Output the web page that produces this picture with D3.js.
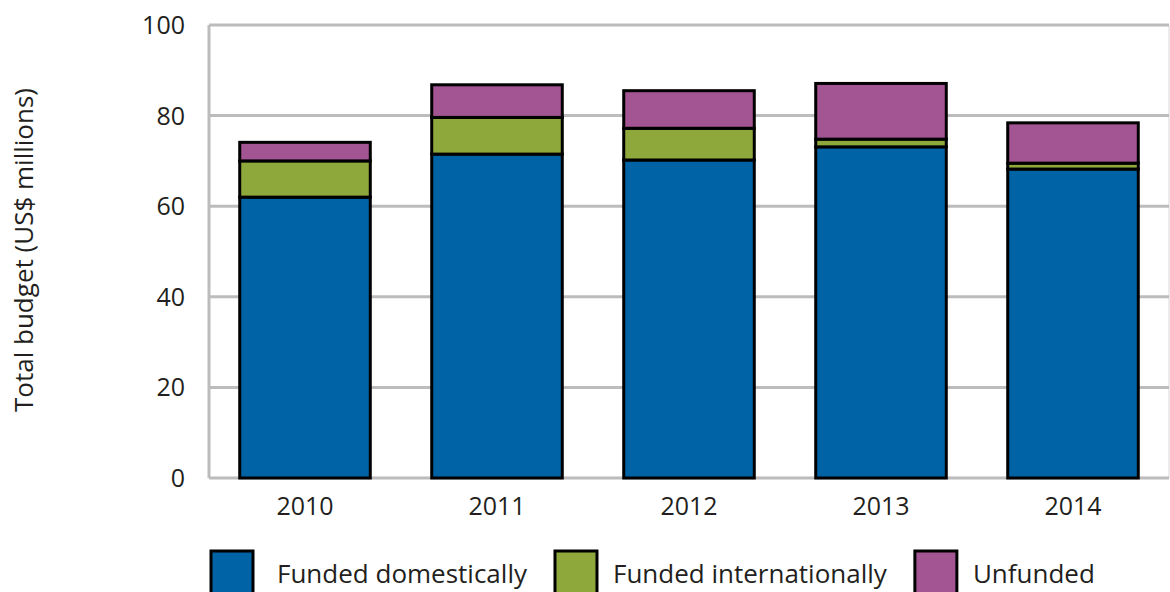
<!DOCTYPE html>
<html>
<head>
<meta charset="utf-8">
<script src="https://cdn.jsdelivr.net/npm/d3@7"></script>
<style>
  body { margin: 0; background: #fff; }
  text { font-family: "Open Sans", sans-serif; fill: #231f20; }
</style>
</head>
<body>
<script>
var years = ["2010", "2011", "2012", "2013", "2014"];
var domestic = [62.0, 71.5, 70.2, 73.1, 68.2];
var international = [8.0, 8.1, 7.0, 1.7, 1.3];
var unfunded = [4.1, 7.2, 8.3, 12.3, 8.9];
var seriesNames = ["Funded domestically", "Funded internationally", "Unfunded"];
var seriesColors = ["#0063a6", "#8fa83c", "#a35492"];
var yTicks = [0, 20, 40, 60, 80, 100];

var w = 1170;
var h = 592;

var margin = {
  top: 25,
  left: 209,
  bottom: 114,
  right: 1
}

var width = w - margin.left - margin.right;
var height = h - margin.top - margin.bottom;

var svg = d3.select("body")
  .append("svg")
  .attr("width", w)
  .attr("height", h)

var g = svg.append("g")
  .attr("transform", "translate(" + margin.left + ", " + margin.top + ")");

var x = d3.scaleBand()
  .domain(years)
  .range([0, width])
  .paddingInner(0.32)
  .paddingOuter(0.16);

var y = d3.scaleLinear()
  .domain([0, 100])
  .range([height, 0]);

// rows for the stack
var rows = years.map(function(yr, i) {
  return { year: yr, s0: domestic[i], s1: international[i], s2: unfunded[i] };
});
var stacked = d3.stack().keys(["s0", "s1", "s2"])(rows);

// right border, faint
g.append("line")
  .attr("x1", width).attr("x2", width)
  .attr("y1", 0).attr("y2", height)
  .attr("stroke", "#d6d6d6")
  .attr("stroke-width", 1);

// gridlines
g.selectAll(".grid")
  .data(yTicks)
  .enter()
  .append("line")
  .attr("x1", 0)
  .attr("x2", width)
  .attr("y1", function(d) { return y(d); })
  .attr("y2", function(d) { return y(d); })
  .attr("stroke", "#bcbcbc")
  .attr("stroke-width", 3);

g.append("line")
  .attr("x1", 0).attr("x2", 0)
  .attr("y1", 0).attr("y2", height)
  .attr("stroke", "#bcbcbc")
  .attr("stroke-width", 3);

// y tick labels
g.selectAll(".ylab")
  .data(yTicks)
  .enter()
  .append("text")
  .attr("x", -24)
  .attr("y", function(d) { return y(d); })
  .attr("dy", "0.36em")
  .attr("text-anchor", "end")
  .style("font-size", "25px")
  .text(function(d) { return d; });

// x labels
g.selectAll(".xlab")
  .data(years)
  .enter()
  .append("text")
  .attr("x", function(d) { return x(d) + x.bandwidth() / 2; })
  .attr("y", height + 37)
  .attr("text-anchor", "middle")
  .style("font-size", "25px")
  .text(function(d) { return d; });

// bars
var layer = g.selectAll(".layer")
  .data(stacked)
  .enter()
  .append("g")
  .attr("fill", function(d, i) { return seriesColors[i]; });

layer.selectAll("rect")
  .data(function(d) { return d; })
  .enter()
  .append("rect")
  .attr("x", function(d) { return x(d.data.year); })
  .attr("y", function(d) { return y(d[1]); })
  .attr("width", x.bandwidth())
  .attr("height", function(d) { return y(d[0]) - y(d[1]); })
  .attr("stroke", "#000")
  .attr("stroke-width", 3);

// y axis title
svg.append("text")
  .attr("transform", "translate(33, 250) rotate(-90)")
  .attr("text-anchor", "middle")
  .style("font-size", "26px")
  .text("Total budget (US$ millions)");

// legend
var legend = svg.append("g").attr("transform", "translate(211, 551)");
var lx = 0;
seriesNames.forEach(function(name, i) {
  legend.append("rect")
    .attr("x", lx)
    .attr("y", 0)
    .attr("width", 42)
    .attr("height", 44)
    .attr("fill", seriesColors[i])
    .attr("stroke", "#000")
    .attr("stroke-width", 3);
  var t = legend.append("text")
    .attr("x", lx + 42 + (i == 0 ? 24 : 16))
    .attr("y", 32)
    .style("font-size", "26px")
    .text(name);
  lx = lx + 42 + (i == 0 ? 24 : 16) + t.node().getComputedTextLength() + 28;
});
</script>
</body>
</html>
